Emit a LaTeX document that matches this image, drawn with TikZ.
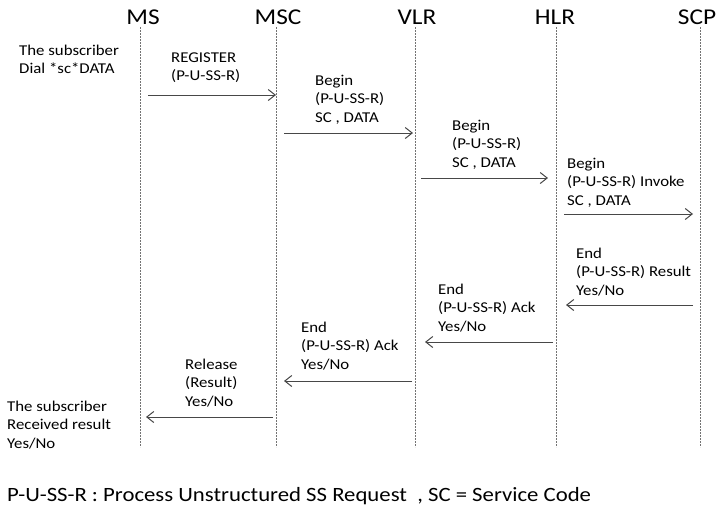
\documentclass[tikz,border=0pt]{standalone}
\usepackage{fontspec}
\setmainfont{Carlito}[FakeStretch=1.12]
\usetikzlibrary{arrows.meta}

\begin{document}
\begin{tikzpicture}[x=1pt, y=-1pt,
  lifeline/.style={draw=black!55, line width=0.8pt, dash pattern=on 2pt off 1pt},
  msg/.style={draw=black!72, line width=1pt, -{Straight Barb[length=7pt,width=11pt]}},
  head/.style={font=\fontsize{22.6}{26}\selectfont, anchor=base, inner sep=0pt},
  % multi-line labels are anchored at the baseline of their last line
  lbl/.style={font=\fontsize{15}{18.7}\selectfont, anchor=base west, align=left, inner sep=0pt},
  caption/.style={font=\fontsize{20.3}{24}\selectfont, anchor=base west, inner sep=0pt}]
\useasboundingbox (0,0) rectangle (717,507);

% entity headers
\node[head] (ms)  at (143,24) {MS};
\node[head] (msc) at (278,24) {MSC};
\node[head] (vlr) at (417,24) {VLR};
\node[head] (hlr) at (555,24) {HLR};
\node[head] (scp) at (697,24) {SCP};

% lifelines
\coordinate (msT)  at (140,27);  \coordinate (msB)  at (140,447);
\coordinate (mscT) at (276,27);  \coordinate (mscB) at (276,447);
\coordinate (vlrT) at (415,27);  \coordinate (vlrB) at (415,447);
\coordinate (hlrT) at (556,27);  \coordinate (hlrB) at (556,447);
\coordinate (scpT) at (700,27);  \coordinate (scpB) at (700,447);
\foreach \e in {ms,msc,vlr,hlr,scp}
  \draw[lifeline] (\e T) -- (\e B);

% message end points
\coordinate (m1a) at (148,95);  \coordinate (m1b) at (276,95);
\coordinate (m2a) at (284,133); \coordinate (m2b) at (413,133);
\coordinate (m3a) at (421,178); \coordinate (m3b) at (548,178);
\coordinate (m4a) at (564,214); \coordinate (m4b) at (693,214);
\coordinate (m5a) at (693,305); \coordinate (m5b) at (566,305);
\coordinate (m6a) at (553,342); \coordinate (m6b) at (425,342);
\coordinate (m7a) at (412,381); \coordinate (m7b) at (284,381);
\coordinate (m8a) at (273,417); \coordinate (m8b) at (146,417);
\foreach \i in {1,...,8}
  \draw[msg] (m\i a) -- (m\i b);

% message labels
\node[lbl] (dial)  at (19,73.7)   {The subscriber\\Dial *sc*DATA};
\node[lbl] (reg)   at (171,80.7)  {REGISTER\\(P-U-SS-R)};
\node[lbl] (beg1)  at (315,122.4) {Begin\\(P-U-SS-R)\\SC , DATA};
\node[lbl] (beg2)  at (452,167.4) {Begin\\(P-U-SS-R)\\SC , DATA};
\node[lbl] (beg3)  at (567,205.4) {Begin\\(P-U-SS-R) Invoke\\SC , DATA};
\node[lbl] (end1)  at (576,295.4) {End\\(P-U-SS-R) Result\\Yes/No};
\node[lbl] (end2)  at (438,331.4) {End\\(P-U-SS-R) Ack\\Yes/No};
\node[lbl] (end3)  at (301,369.4) {End\\(P-U-SS-R) Ack\\Yes/No};
\node[lbl] (rel)   at (185,406.4) {Release\\(Result)\\Yes/No};
\node[lbl] (recv)  at (7,448.4)   {The subscriber\\Received result\\Yes/No};

% legend
\node[caption] (legend) at (7,501) {P-U-SS-R : Process Unstructured SS Request\ \ , SC = Service Code};
\end{tikzpicture}
\end{document}
